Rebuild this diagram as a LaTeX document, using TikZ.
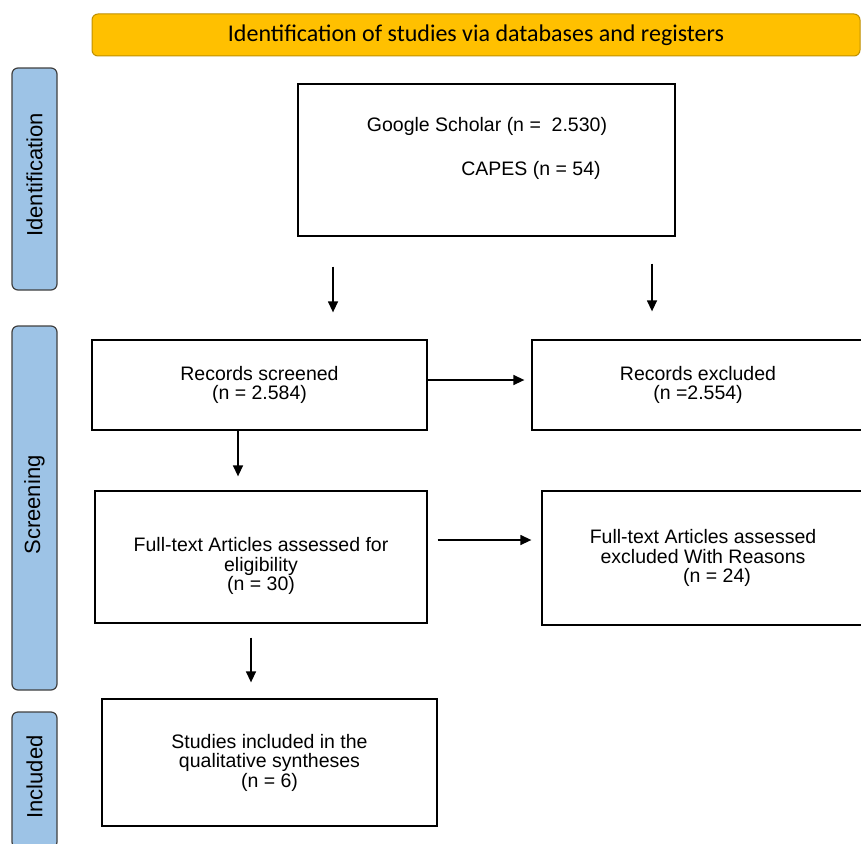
\documentclass[tikz,border=0pt]{standalone}
\usepackage{fontspec}
\setmainfont{Liberation Sans}
\newfontfamily\bannerfont{Carlito}
\usepackage{tikz}
\usetikzlibrary{positioning,arrows.meta}
\definecolor{bannerfill}{RGB}{255,192,0}
\definecolor{bannerline}{RGB}{191,144,0}
\definecolor{phasefill}{RGB}{157,195,230}
\definecolor{phaseline}{RGB}{64,64,64}

\begin{document}
\begin{tikzpicture}[x=1pt, y=-1pt, >={Triangle[length=11pt, width=10pt]},
      font=\fontsize{19.5}{19.5}\selectfont,
      record/.style={draw, line width=1.3pt, align=center, inner sep=0pt},
      phase/.style={draw=phaseline, fill=phasefill, rounded corners=6pt, line width=1.2pt,
                    minimum width=45pt, inner sep=0pt},
      phaselbl/.style={rotate=90, font=\fontsize{22}{22}\selectfont},
      flow/.style={->, line width=1.4pt}]
    \useasboundingbox (0,0) rectangle (861,843);

    % banner and phases
    \node[draw=bannerline, fill=bannerfill, rounded corners=6pt, line width=1pt,
          minimum width=768pt, minimum height=42pt] (banner) at (476,35)
          {\bannerfont\fontsize{24}{24}\selectfont Identification of studies via databases and registers};
    \node[phase, minimum height=222pt] (ident) at (34.5,179) {};
    \node[phaselbl] (identlbl) at (34.5,175) {Identification};
    \node[phase, minimum height=364pt] (screen) at (34.5,508) {};
    \node[phaselbl] (screenlbl) at (34.5,505) {Screening};
    \node[phase, minimum height=136pt] (incl) at (34.5,780) {};
    \node[phaselbl] (incllbl) at (34.5,777) {Included};

    % records
    \node[record, minimum width=377pt, minimum height=152pt] (search) at (486.5,160) {};
    \node (google) at (487,126) {Google Scholar (n =\ \ 2.530)};
    \node (capes)  at (531,170) {CAPES (n = 54)};
    \node[record, minimum width=335pt, minimum height=90pt] (screened) at (259.5,385)
          {Records screened\\(n = 2.584)};
    \node[record, minimum width=332pt, minimum height=90pt] (excluded) at (698,385)
          {Records excluded\\(n =2.554)};
    \node[record, minimum width=332pt, minimum height=132pt] (fulltext) at (261,557) {};
    \node[align=center] (fulltextlbl) at (261,566)
          {Full-text Articles assessed for\\eligibility\\(n = 30)};
    \node[record, minimum width=322pt, minimum height=134pt] (reasons) at (703,558)
          {Full-text Articles assessed\\excluded With Reasons\\\hspace{28pt}(n = 24)};
    \node[record, minimum width=335pt, minimum height=127pt] (included) at (269.5,762.5)
          {Studies included in the\\qualitative syntheses\\(n = 6)};

    % arrows
    \draw[flow, shorten <=30pt, shorten >=27pt] ([xshift=-153.5pt]search.south) -- ([xshift=-153.5pt]search.south |- screened.north);
    \draw[flow, shorten <=27pt, shorten >=28pt] ([xshift=165.5pt]search.south) -- ([xshift=165.5pt]search.south |- excluded.north);
    \draw[flow, shorten >=7pt] ([yshift=5pt]screened.east) -- ([yshift=5pt]screened.east -| excluded.west);
    \draw[flow, shorten >=14pt] ([xshift=-21.5pt]screened.south) -- ([xshift=-21.5pt]screened.south |- fulltext.north);
    \draw[flow, shorten <=10pt, shorten >=10pt] ([yshift=17pt]fulltext.east) -- ([yshift=17pt]fulltext.east -| reasons.west);
    \draw[flow, shorten <=14pt, shorten >=16pt] ([xshift=-10pt]fulltext.south) -- ([xshift=-10pt]fulltext.south |- included.north);
\end{tikzpicture}
\end{document}
